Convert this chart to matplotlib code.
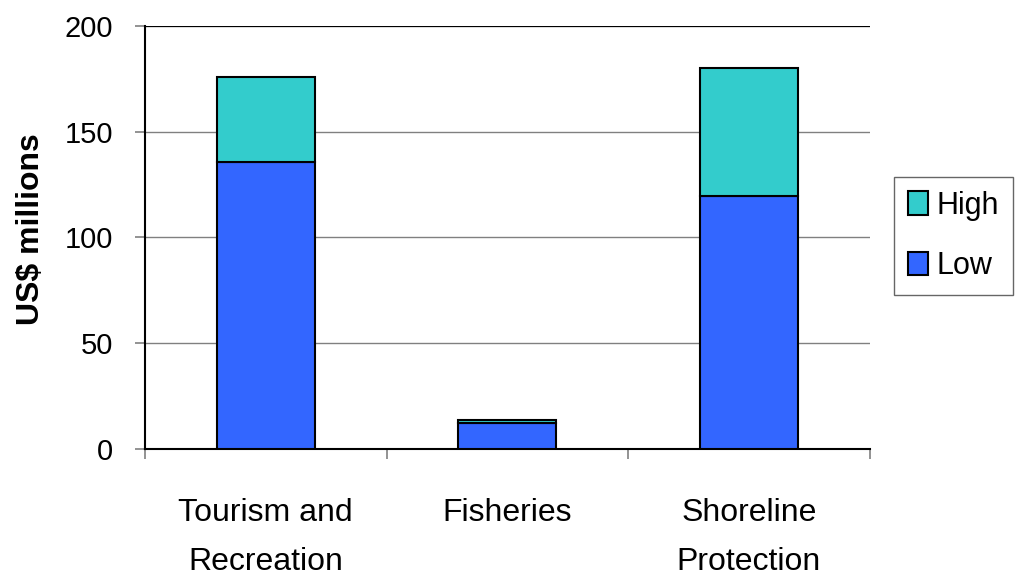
import numpy as np
import matplotlib.pyplot as plt

plt.rcParams['font.family'] = ['Liberation Sans', 'DejaVu Sans']

# data
categories = ['Tourism and\nRecreation', 'Fisheries', 'Shoreline\nProtection']
low = [135.5, 12.3, 119.7]
high_extra = [40.4, 1.4, 60.6]

fig = plt.figure(figsize=(10.17, 5.76), dpi=100)
ax = fig.add_axes([0.1426, 0.2205, 0.7124, 0.7344])

x = np.arange(len(categories))
w = 0.405
ax.bar(x, low, width=w, color='#3366FF', edgecolor='black', linewidth=1.5, label='Low', zorder=3)
ax.bar(x, high_extra, width=w, bottom=low, color='#33CCCC', edgecolor='black', linewidth=1.5,
       label='High', zorder=3)

ax.set_xlim(-0.5, 2.5)
ax.set_ylim(0, 200)
ax.set_yticks([0, 50, 100, 150, 200])
ax.yaxis.grid(True, color='#808080', linewidth=1, zorder=0)
ax.axhline(200, color='black', linewidth=1.5, zorder=2)

# category labels centred, ticks at the category boundaries
ax.set_xticks([-0.5, 0.5, 1.5, 2.5])
ax.set_xticklabels([])
ax.set_xticks(x, minor=True)
ax.set_xticklabels(categories, minor=True, fontsize=23, linespacing=1.85)
ax.tick_params(axis='x', which='minor', length=0, pad=35)
ax.tick_params(axis='x', which='major', direction='out', length=7, color='#808080', width=1.2)
ax.tick_params(axis='y', direction='out', length=7, color='#808080', width=1.2, labelsize=21, pad=16)

for s in ['top', 'right']:
    ax.spines[s].set_visible(False)
ax.spines['left'].set_linewidth(1.5)
ax.spines['bottom'].set_linewidth(1.5)

ax.set_ylabel('US$ millions', fontsize=23, fontweight='bold')
ax.yaxis.set_label_coords(-0.137, 0.52)

handles, labels = ax.get_legend_handles_labels()
leg = fig.legend(handles[::-1], labels[::-1], loc='upper left', bbox_to_anchor=(0.879, 0.693),
                 fontsize=22, frameon=True, fancybox=False, edgecolor='#404040',
                 handlelength=0.65, handleheight=0.8, handletextpad=0.3, labelspacing=1.0,
                 borderpad=0.45, borderaxespad=0)
leg.get_frame().set_linewidth(1.0)
for h in leg.legend_handles:
    h.set_linewidth(1.5)

fig.savefig('out.png', dpi=100)
